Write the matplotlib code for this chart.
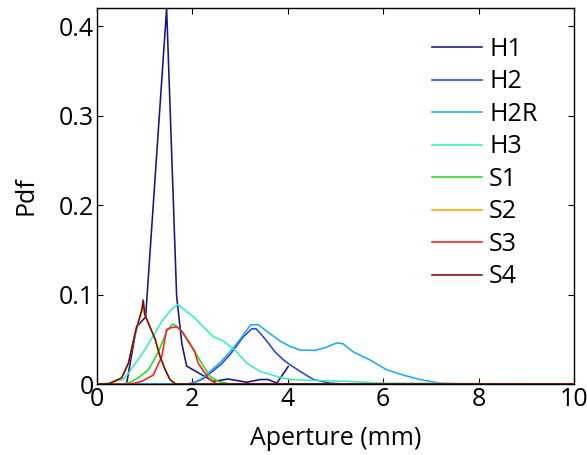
import matplotlib
matplotlib.use("Agg")
import matplotlib.pyplot as plt

plt.rcParams['font.family'] = ['Open Sans', 'DejaVu Sans']

# ---- data ----
h1_x = [0, 0.40, 0.62, 0.83, 1.02, 1.46, 1.67, 1.78, 1.88, 2.44, 2.75, 3.14, 3.42, 3.59, 3.77, 4.01]
h1_y = [0, 0, 0, 0.064, 0.075, 0.42, 0.098, 0.045, 0.020, 0.003, 0.0056, 0.002, 0.005, 0.005, 0.001, 0.0197]

h2_x = [0, 1.9, 2.0, 2.2, 2.37, 2.6, 2.79, 3.07, 3.24, 3.33, 3.45, 3.59, 3.73, 3.91, 4.05, 4.26, 4.54, 4.88, 5.2, 6.0, 10]
h2_y = [0, 0, 0.001, 0.005, 0.012, 0.022, 0.033, 0.053, 0.0615, 0.062, 0.055, 0.046, 0.036, 0.027, 0.0215, 0.014, 0.005, 0.001, 0, 0, 0]

h2r_x = [0, 1.9, 2.0, 2.2, 2.37, 2.6, 2.79, 3.0, 3.22, 3.38, 3.56, 3.84, 4.05, 4.26, 4.57, 4.8, 5.03, 5.16, 5.37, 5.72, 6.07, 6.42, 6.77, 7.19, 7.6, 10]
h2r_y = [0, 0, 0.001, 0.006, 0.014, 0.025, 0.036, 0.050, 0.0663, 0.0663, 0.059, 0.048, 0.042, 0.038, 0.0376, 0.041, 0.046, 0.045, 0.036, 0.027, 0.016, 0.010, 0.005, 0.001, 0, 0]

h3_x = [0, 0.13, 0.55, 0.66, 1.0, 1.36, 1.55, 1.70, 1.88, 2.05, 2.19, 2.44, 2.65, 2.89, 3.14, 3.42, 3.77, 4.05, 4.54, 5.23, 6.0, 10]
h3_y = [0, 0, 0.005, 0.012, 0.038, 0.070, 0.083, 0.089, 0.081, 0.074, 0.066, 0.053, 0.048, 0.038, 0.0235, 0.014, 0.0085, 0.005, 0.004, 0.003, 0.001, 0]

s1_x = [0, 0.55, 0.70, 0.87, 1.08, 1.29, 1.46, 1.55, 1.60, 1.68, 1.78, 1.99, 2.19, 2.37, 2.54, 2.8, 10]
s1_y = [0, 0, 0.002, 0.007, 0.016, 0.036, 0.059, 0.065, 0.067, 0.064, 0.059, 0.042, 0.0235, 0.0085, 0.003, 0, 0]

s2_x = [0, 0.24, 0.52, 0.66, 0.80, 0.87, 0.94, 0.97, 1.00, 1.11, 1.22, 1.32, 1.43, 1.53, 1.66, 10]
s2_y = [0, 0, 0.007, 0.0235, 0.056, 0.068, 0.082, 0.090, 0.078, 0.064, 0.050, 0.031, 0.016, 0.005, 0, 0]

s3_x = [0, 0.70, 0.94, 1.18, 1.36, 1.46, 1.56, 1.67, 1.78, 1.91, 2.05, 2.12, 2.33, 2.50, 10]
s3_y = [0, 0, 0.003, 0.010, 0.031, 0.061, 0.063, 0.064, 0.059, 0.048, 0.036, 0.0235, 0.007, 0, 0]

s4_x = [0, 0.24, 0.52, 0.66, 0.80, 0.87, 0.94, 0.97, 1.00, 1.11, 1.22, 1.32, 1.43, 1.53, 1.64, 10]
s4_y = [0, 0, 0.007, 0.0235, 0.057, 0.070, 0.083, 0.094, 0.078, 0.064, 0.050, 0.031, 0.016, 0.005, 0, 0]

labels = ['H1', 'H2', 'H2R', 'H3', 'S1', 'S2', 'S3', 'S4']
colors = ['#14148f', '#2246e6', '#1eaaf8', '#36efc0', '#22dd22', '#ffa200', '#ff1e1e', '#7a0c0c']
xticks = [0, 2, 4, 6, 8, 10]
yticks = [0, 0.1, 0.2, 0.3, 0.4]
ytick_labels = ['0', '0.1', '0.2', '0.3', '0.4']

series = [(h1_x, h1_y), (h2_x, h2_y), (h2r_x, h2r_y), (h3_x, h3_y),
          (s1_x, s1_y), (s2_x, s2_y), (s3_x, s3_y), (s4_x, s4_y)]

fig = plt.figure(figsize=(5.87, 4.55), dpi=100)
ax = fig.add_axes([0.1652, 0.156, 0.8127, 0.8264])

for (xs, ys), lab, c in zip(series, labels, colors):
    ax.plot(xs, ys, color=c, lw=1.15, label=lab)

ax.set_xlim(0, 10)
ax.set_ylim(0, 0.4206)
ax.set_xticks(xticks)
ax.set_xticklabels([str(t) for t in xticks])
ax.set_yticks(yticks)
ax.set_yticklabels(ytick_labels)
ax.tick_params(direction='in', top=True, right=True, length=4, width=0.8,
               labelsize=18, pad=2)
for sp in ax.spines.values():
    sp.set_linewidth(1.0)

ax.set_xlabel('Aperture (mm)', fontsize=18, labelpad=10)
ax.set_ylabel('Pdf', fontsize=18, labelpad=15)

leg = ax.legend(loc='upper right', frameon=False, fontsize=18,
                handlelength=2.0, handletextpad=0.3, labelspacing=0.3,
                borderaxespad=0.0, bbox_to_anchor=(0.944, 0.95))

fig.savefig('out.png', dpi=100)
